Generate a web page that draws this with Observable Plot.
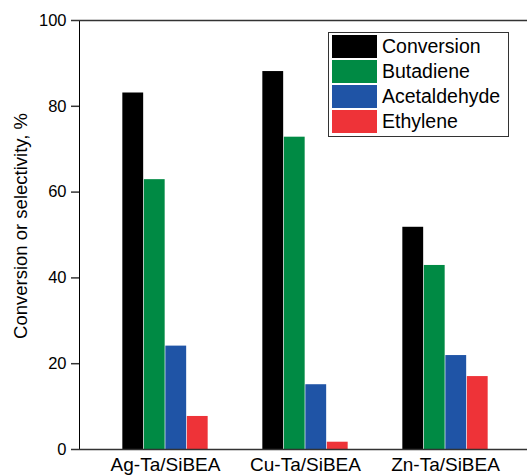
<!DOCTYPE html>
<html>
<head>
<meta charset="utf-8">
<script src="https://cdn.jsdelivr.net/npm/d3@7"></script>
<script src="https://cdn.jsdelivr.net/npm/@observablehq/plot@0.6"></script>
<style>
  html, body { margin: 0; padding: 0; background: #fff; }
  #wrap { position: relative; width: 527px; height: 475px; font-family: "Liberation Sans", Arial, sans-serif; }
  #legend { position: absolute; left: 328px; top: 32px; width: 179px; height: 103px; border: 1.5px solid #333; background: #fff; box-sizing: content-box; }
  .row { position: absolute; left: 3px; height: 23px; display: flex; align-items: center; }
  .sw { width: 45px; height: 23px; margin-right: 5px; }
  .lt { font-size: 19.5px; color: #000; line-height: 23px; }
  #ylabel { position: absolute; left: 21px; top: 226px; transform: translate(-50%, -50%) rotate(-90deg); white-space: nowrap; font-size: 18.5px; color: #000; }
</style>
</head>
<body>
<div id="wrap"></div>
<script>
const groups = ["Ag-Ta/SiBEA", "Cu-Ta/SiBEA", "Zn-Ta/SiBEA"];
const series = ["Conversion", "Butadiene", "Acetaldehyde", "Ethylene"];
const colors = ["#000000", "#008a44", "#1f54a6", "#ee3338"];
const conversion   = [83.1, 88.1, 51.8];
const butadiene    = [62.9, 72.8, 42.9];
const acetaldehyde = [24.1, 15.1, 21.9];
const ethylene     = [7.7, 1.7, 17.0];
const yTicks = [0, 20, 40, 60, 80, 100];
const yLabel = "Conversion or selectivity, %";

const values = [conversion, butadiene, acetaldehyde, ethylene];
const data = [];
series.forEach((s, si) => groups.forEach((g, gi) => data.push({group: g, series: s, si, value: values[si][gi]})));

const bandW = (515.5 - 93.5) / 3;
const barW = 21.5;
const barMarks = series.map((s, si) => {
  const inL = bandW / 2 - 2 * barW + si * barW;
  return Plot.barY(data.filter(d => d.si === si), {
    x: "group", y: "value", fill: colors[si],
    insetLeft: inL, insetRight: bandW - inL - barW
  });
});

const chart = Plot.plot({
  width: 527,
  height: 475,
  marginLeft: 79,
  marginRight: 0,
  marginTop: 20,
  marginBottom: 26,
  style: { fontFamily: "Liberation Sans, Arial, sans-serif", background: "#fff", color: "#000" },
  x: { type: "band", domain: groups, range: [93.5, 515.5], padding: 0, label: null, tickSize: 0, tickPadding: 8 },
  y: { domain: [0, 100], ticks: yTicks, tickSize: 8, tickPadding: 5, line: true, label: null },
  marks: [
    ...barMarks,
    Plot.ruleY([0], { stroke: "#333", strokeWidth: 1.5 }),
    Plot.ruleY([100], { stroke: "#333", strokeWidth: 1.5 })
  ]
});
chart.querySelectorAll("text").forEach(t => {
  const s = t.textContent.trim();
  if (groups.includes(s)) t.style.fontSize = "19px";
  else if (yTicks.map(String).includes(s)) t.style.fontSize = "16.5px";
});
chart.querySelectorAll("g[aria-label='y-axis tick'], g[aria-label='y-axis line']").forEach(e => { e.setAttribute("stroke", "#333"); e.setAttribute("stroke-width", "1.5"); });

const wrap = document.getElementById("wrap");
wrap.appendChild(chart);

const yl = document.createElement("div");
yl.id = "ylabel";
yl.textContent = yLabel;
wrap.appendChild(yl);

const legend = document.createElement("div");
legend.id = "legend";
series.forEach((s, i) => {
  const row = document.createElement("div");
  row.className = "row";
  row.style.top = (2 + i * 25) + "px";
  row.innerHTML = `<div class="sw" style="background:${colors[i]}"></div><span class="lt">${s}</span>`;
  legend.appendChild(row);
});
wrap.appendChild(legend);
</script>
</body>
</html>
